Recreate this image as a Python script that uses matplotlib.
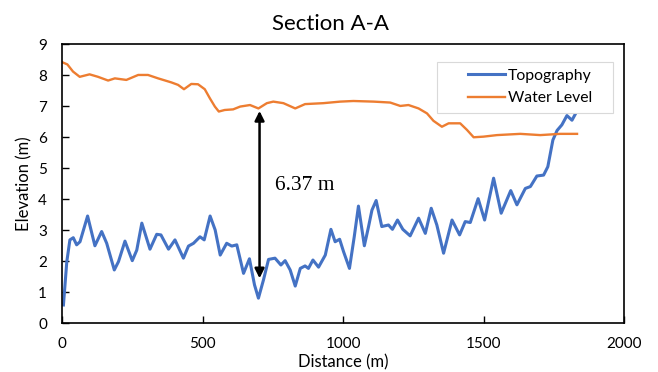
import matplotlib
matplotlib.use("Agg")
import matplotlib.pyplot as plt
from matplotlib.patches import Rectangle

# ---- data ----
topo_x = [4, 16, 27, 39, 51, 63, 90, 116, 140, 158, 185, 200, 223, 249, 265, 283, 312, 336, 351, 378,
          401, 431, 449, 467, 490, 505, 526, 544, 562, 585, 603, 621, 645, 666, 684, 698, 716, 734, 757, 778,
          793, 811, 829, 847, 864, 876, 892, 912, 936, 956, 971, 987, 1001, 1022, 1039, 1054, 1075, 1090, 1102, 1117,
          1137, 1161, 1175, 1193, 1212, 1238, 1268, 1292, 1313, 1333, 1357, 1387, 1414, 1434, 1452, 1480, 1503, 1535,
          1562, 1596, 1618, 1648, 1666, 1689, 1713, 1728, 1746, 1761, 1778, 1796, 1814, 1826]
topo_y = [0.59, 1.99, 2.69, 2.76, 2.53, 2.63, 3.46, 2.50, 2.96, 2.58, 1.72, 1.99, 2.65, 2.02, 2.36, 3.23, 2.39, 2.87, 2.85, 2.39,
          2.69, 2.10, 2.49, 2.58, 2.79, 2.69, 3.46, 3.01, 2.20, 2.58, 2.49, 2.53, 1.61, 2.08, 1.24, 0.81, 1.40, 2.06, 2.10, 1.88,
          2.02, 1.72, 1.20, 1.77, 1.85, 1.77, 2.04, 1.81, 2.20, 3.03, 2.63, 2.71, 2.31, 1.77, 2.79, 3.78, 2.50, 3.12, 3.65, 3.96,
          3.12, 3.17, 3.03, 3.33, 3.03, 2.82, 3.39, 2.90, 3.71, 3.17, 2.26, 3.33, 2.85, 3.28, 3.25, 4.02, 3.33, 4.68,
          3.55, 4.28, 3.82, 4.35, 4.41, 4.75, 4.78, 5.05, 5.91, 6.22, 6.40, 6.70, 6.55, 6.75]

water_x = [0, 18, 38, 62, 97, 127, 163, 187, 228, 270, 305, 341, 388, 412, 433, 459, 483, 507, 525, 543,
           557, 578, 608, 633, 668, 698, 728, 751, 787, 829, 864, 929, 989, 1036, 1108, 1167, 1203, 1232, 1268, 1298,
           1321, 1351, 1375, 1416, 1440, 1464, 1499, 1547, 1630, 1701, 1772, 1832]
water_y = [8.42, 8.35, 8.12, 7.95, 8.03, 7.95, 7.83, 7.90, 7.85, 8.01, 8.01, 7.90, 7.77, 7.69, 7.55, 7.72, 7.71, 7.55, 7.26, 6.99,
           6.83, 6.88, 6.90, 6.99, 7.04, 6.93, 7.10, 7.15, 7.10, 6.93, 7.07, 7.10, 7.15, 7.17, 7.15, 7.12, 7.01, 7.04, 6.93, 6.77,
           6.53, 6.34, 6.45, 6.45, 6.24, 6.00, 6.02, 6.07, 6.11, 6.07, 6.11, 6.11]

x_ticks = [0, 500, 1000, 1500, 2000]
y_ticks = [0, 1, 2, 3, 4, 5, 6, 7, 8, 9]

depth_label = "6.37 m"
arrow_x = 702
arrow_top = 6.85
arrow_bottom = 1.45

# ---- figure ----
plt.rcParams['font.family'] = ['Lato', 'DejaVu Sans']
W, H = 658, 372
fig = plt.figure(figsize=(W / 100, H / 100), dpi=100)
ax = fig.add_axes([0.0947, 0.131, 0.854, 0.750])

ax.plot(topo_x, topo_y, color='#4472C4', lw=2.2, label='Topography', solid_joinstyle='round')
ax.plot(water_x, water_y, color='#ED7D31', lw=1.7, label='Water Level', solid_joinstyle='round')

ax.annotate('', xy=(arrow_x, arrow_top), xytext=(arrow_x, arrow_bottom),
            arrowprops=dict(arrowstyle='<|-|>', color='black', lw=1.8, mutation_scale=14,
                            shrinkA=0, shrinkB=0))
ax.text(757, 4.46, depth_label, fontsize=15.5, family='Liberation Serif', va='center', ha='left')

ax.set_xlim(0, 2000)
ax.set_ylim(0, 9)
ax.set_xticks(x_ticks)
ax.set_yticks(y_ticks)
ax.tick_params(direction='in', length=5, width=1, labelsize=11, colors='black')
ax.tick_params(axis='x', pad=10)
ax.tick_params(axis='y', pad=11)
for s in ax.spines.values():
    s.set_linewidth(1.2)
    s.set_color('black')

ax.set_xlabel('Distance (m)', fontsize=12, labelpad=2)
ax.set_ylabel('Elevation (m)', fontsize=12, labelpad=4)
ax.set_title('Section A-A', fontsize=16, pad=10, x=0.478)

# legend frame (Excel-style, wide left padding)
ax.add_patch(Rectangle((437 / W, 1 - 113 / H), 176 / W, 51 / H, transform=fig.transFigure,
                       facecolor='white', edgecolor='#D9D9D9', lw=0.8, zorder=5, clip_on=False))
leg = ax.legend(loc='center left', bbox_to_anchor=(468 / W, 1 - 87 / H),
                bbox_transform=fig.transFigure, fontsize=11.3, frameon=False,
                handlelength=2.35, borderpad=0, borderaxespad=0,
                labelspacing=0.55, handletextpad=0.2)
leg.set_zorder(6)

fig.savefig('out.png', dpi=100)
